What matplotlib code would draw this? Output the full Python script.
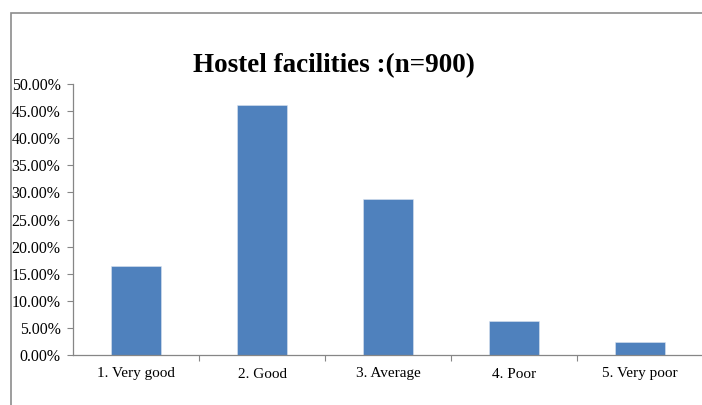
import matplotlib.pyplot as plt
from matplotlib.patches import Rectangle
from matplotlib.ticker import FuncFormatter, FixedLocator

plt.rcParams['font.family'] = ['Liberation Serif', 'DejaVu Serif']

categories = ['1. Very good', '2. Good', '3. Average', '4. Poor', '5. Very poor']
counts = [148, 415, 259, 57, 21]
n_total = 900
shares = [c / n_total for c in counts]

fig = plt.figure(figsize=(7.02, 4.05), dpi=100)

# chart area frame (runs off the right and bottom edges)
fig.patches.append(Rectangle((11 / 702, -0.2), 1.2, (405 - 13) / 405 + 0.2,
                             transform=fig.transFigure, fill=False,
                             edgecolor='#8c8c8c', linewidth=1.2, clip_on=False))

ax = fig.add_axes([73 / 702, 50 / 405, 630 / 702, 271 / 405])
x = range(len(categories))
ax.bar(x, shares, width=0.4, color='#4f81bd', edgecolor='#dbe4f0', linewidth=0.4)

ax.set_xlim(-0.5, len(categories) - 0.5)
ax.set_ylim(0, 0.5)
ax.set_yticks([i * 0.05 for i in range(11)])
ax.yaxis.set_major_formatter(FuncFormatter(lambda v, p: f'{v * 100:.2f}%'))
ax.set_xticks(list(x))
ax.set_xticklabels(categories)
ax.xaxis.set_minor_locator(FixedLocator([i + 0.5 for i in range(len(categories))]))

ax.tick_params(axis='y', length=4, width=0.8, color='#868686', pad=5, labelsize=11.4)
ax.tick_params(axis='x', which='major', length=0, pad=9, labelsize=11)
ax.tick_params(axis='x', which='minor', length=4, width=0.8, color='#868686')

for s in ['top', 'right']:
    ax.spines[s].set_visible(False)
for s in ['left', 'bottom']:
    ax.spines[s].set_color('#868686')
    ax.spines[s].set_linewidth(0.9)

fig.text(334 / 702, (405 - 66) / 405, 'Hostel facilities :(n=900)',
         ha='center', va='center', fontsize=19.5, fontweight='bold')

fig.savefig('out.png', dpi=100)
